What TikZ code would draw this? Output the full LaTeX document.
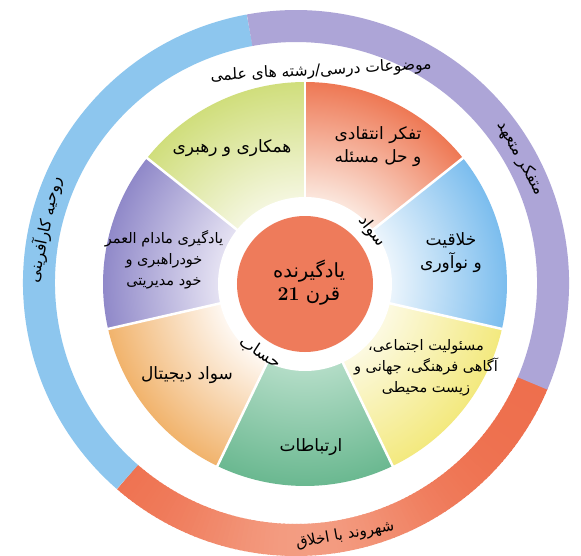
\documentclass[tikz,border=0pt]{standalone}
\usepackage{fontspec}
\usetikzlibrary{calc}
\newfontfamily\fa[Script=Arabic]{DejaVu Sans}
\TeXXeTstate=1
\definecolor{ringblue}{HTML}{8DC6EE}
\definecolor{ringpurple}{HTML}{ADA5D7}
\definecolor{ringred}{HTML}{EE6F4D}
\definecolor{ringpale}{HTML}{F7BBA5}
\definecolor{centerc}{HTML}{EE7B5B}
\definecolor{gTin}{HTML}{F4F6DE}\definecolor{gTout}{HTML}{D0DE7C}
\definecolor{orin}{HTML}{FBE6DC}\definecolor{orout}{HTML}{EE7854}
\definecolor{blin}{HTML}{EAF4FC}\definecolor{blout}{HTML}{7BBDEE}
\definecolor{yein}{HTML}{FCF9E0}\definecolor{yeout}{HTML}{F3E97E}
\definecolor{gBin}{HTML}{B2DCC6}\definecolor{gBout}{HTML}{6AB890}
\definecolor{loin}{HTML}{FEF7F0}\definecolor{loout}{HTML}{F1B36C}
\definecolor{puin}{HTML}{E4E1F2}\definecolor{puout}{HTML}{9089C9}
\colorlet{secin}{white}\colorlet{secout}{white}
\pgfdeclareradialshading[secin,secout]{secshade}{\pgfpoint{0bp}{0bp}}{color(0bp)=(secin); color(10.8bp)=(secin); color(25bp)=(secout); color(50bp)=(secout)}
\begin{document}
\begin{tikzpicture}[x=1pt,y=1pt,
  lbl/.style={font=\fa\fontsize{17}{23}\selectfont, align=center, text=black, inner sep=0pt},
  lblsmall/.style={font=\fa\fontsize{14.5}{21}\selectfont, align=center, text=black, inner sep=0pt},
  ringtxt/.style={font=\fa\fontsize{16}{19}\selectfont, text=black, inner sep=0pt},
  ringband/.style={line width=32pt}]
\useasboundingbox (-305,-271) rectangle (276,284);
\fill[white] (-305,-271) rectangle (276,284);
\coordinate (C) at (0,0);
\coordinate (RC) at (-9,1);
% outer ring
\foreach \a in {-131,-130,...,-24}{
  \pgfmathsetmacro\m{100-60*exp(-((\a+88)/28)^2)}
  \draw[ringband, ringred!\m!ringpale] (RC) ++(\a:257) arc[start angle=\a, end angle=\a+1.3, radius=257];
}
\draw[ringband, ringblue] (RC) ++(100.4:257) arc[start angle=100.4, end angle=229, radius=257];
\draw[ringband, ringpurple] (RC) ++(-23:257) arc[start angle=-23, end angle=100.4, radius=257];
% sectors
\foreach \k/\ci/\co in {0/gTin/gTout,1/puin/puout,2/loin/loout,3/gBin/gBout,4/yein/yeout,5/blin/blout,6/orin/orout}{
  \colorlet{secin}{\ci}\colorlet{secout}{\co}
  \pgfmathsetmacro\sa{90+\k*360/7}
  \pgfmathsetmacro\ea{90+(\k+1)*360/7}
  \begin{scope}
    \clip (C) -- (\sa:202) arc[start angle=\sa, end angle=\ea, radius=202] -- cycle;
    \shade[shading=secshade] (C) circle (202);
  \end{scope}
}
\foreach \k in {0,...,6}{
  \draw[white, line width=2.5pt] (C) -- ({90+\k*360/7}:206);
}
\fill[white] (C) circle (87);
\fill[centerc] (C) circle (68);
% center text
\node[font=\fa\fontsize{19.5}{23}\selectfont, align=center, inner sep=0pt] (ctr) at (4,1)
  {\beginR یادگیرنده\endR\\\beginR قرن \beginL{\rmfamily\bfseries 21}\endL\endR};
\node[ringtxt, font=\fa\fontsize{16.5}{19}\selectfont, rotate=-52] (sawad) at (38:85) {\beginR سواد\endR};
\node[ringtxt, font=\fa\fontsize{16.5}{19}\selectfont, rotate=-33] (hesab) at (-123:82) {\beginR حساب\endR};
% sector labels
\node[lbl] (s0) at (-73,136) {\beginR همکاری و رهبری\endR};
\node[lbl] (s6) at (73,137) {\beginR تفکر انتقادی\endR\\\beginR و حل مسئله\endR};
\node[lbl] (s5) at (146,31) {\beginR خلاقیت\endR\\\beginR و نوآوری\endR};
\node[lblsmall] (s4) at (121,-84) {\beginR مسئولیت اجتماعی،\endR\\\beginR آگاهی فرهنگی، جهانی و\endR\\\beginR زیست محیطی\endR};
\node[lbl] (s3) at (6,-163) {\beginR ارتباطات\endR};
\node[lbl] (s2) at (-118,-91) {\beginR سواد دیجیتال\endR};
\node[lblsmall] (s1) at (-141,24) {\beginR یادگیری مادام العمر\endR\\\beginR خودراهبری و\endR\\\beginR خود مدیریتی\endR};
% ring and gap texts
\node[ringtxt, font=\fa\fontsize{15.5}{18}\selectfont, rotate=3] (top) at (16,213) {\beginR موضوعات درسی/رشته های علمی\endR};
\node[ringtxt, rotate=-61] (right) at ($(RC)+(29:257)$) {\beginR متفکر متعهد\endR};
\node[ringtxt, rotate=78] (left) at ($(RC)+(168:257)$) {\beginR روحیه کارآفرینی\endR};
\node[ringtxt, font=\fa\fontsize{15}{18}\selectfont, rotate=10] (bottom) at ($(RC)+(-79:257)$) {\beginR شهروند با اخلاق\endR};
\end{tikzpicture}
\end{document}
